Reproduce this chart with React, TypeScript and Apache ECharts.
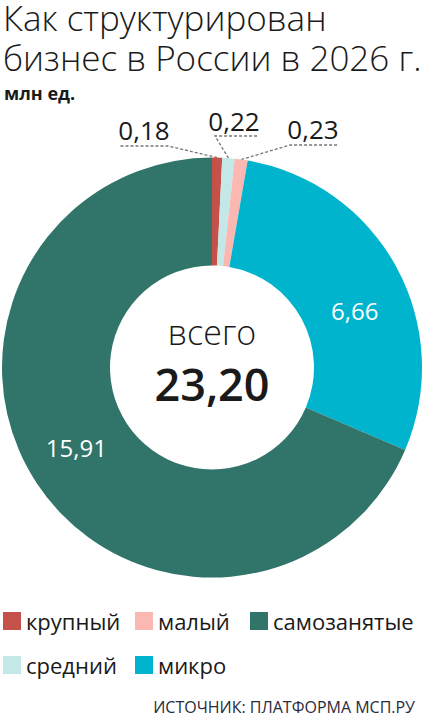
import React, { useEffect, useRef } from "react";
import * as echarts from "echarts";

const categories = ["крупный", "средний", "малый", "микро", "самозанятые"];
const values = [0.18, 0.22, 0.23, 6.66, 15.91];
const colors = ["#c4524b", "#c4e7e7", "#fbb8b3", "#00b4cd", "#31756a"];
const legendColumns = [["крупный", "средний"], ["малый", "микро"], ["самозанятые"]];
const titleLines = ["Как структурирован", "бизнес в России в 2026 г."];
const unitText = "млн ед.";
const totalLabel = "всего";
const sourceText = "ИСТОЧНИК: ПЛАТФОРМА МСП.РУ";

const FONT = "'Open Sans', 'Noto Sans', sans-serif";
const fmt = (v: number) => v.toFixed(2).replace(".", ",");

export default function App() {
  const ref = useRef<HTMLDivElement>(null);
  useEffect(() => {
    if (!ref.current) return;
    const chart = echarts.init(ref.current, null, { renderer: "svg" });
    const total = values.reduce((a, b) => a + b, 0);
    const cx = 212;
    const cy = 367.5;

    // label placement for small outside labels: [labelX, labelY, bendX, bendY, endX]
    const outside: Record<number, number[]> = {
      0: [144, 130, 168, 146, 119],
      1: [234, 121, 215, 136, 258],
      2: [313, 129, 290, 145, 338],
    };

    const titleStyle = { fontFamily: FONT, fontSize: 35, fontWeight: 300, color: "#1a1a1a", lineHeight: 35 };

    const option: any = {
      animation: false,
      backgroundColor: "#ffffff",
      title: [
        { text: titleLines[0], left: 3, top: 0, padding: 0, textStyle: titleStyle },
        { text: titleLines[1], left: 3, top: 40, padding: 0, textStyle: titleStyle },
        {
          text: unitText,
          left: 4,
          top: 83,
          padding: 0,
          textStyle: { fontFamily: FONT, fontSize: 18, fontWeight: "bold", color: "#1a1a1a", lineHeight: 20 },
        },
        {
          text: sourceText,
          right: 8,
          top: 699,
          padding: 0,
          textStyle: { fontFamily: FONT, fontSize: 16, fontWeight: "normal", color: "#2a2a3a" },
        },
      ],
      legend: legendColumns.map((col, i) => ({
        data: col,
        orient: "vertical",
        left: [3, 135, 250][i],
        top: 610,
        padding: 0,
        itemWidth: 18,
        itemHeight: 18,
        itemGap: 22,
        icon: "rect",
        selectedMode: false,
        textStyle: { fontFamily: FONT, fontSize: 22, color: "#1a1a1a", lineHeight: 18 },
      })),
      graphic: [
        {
          type: "text",
          x: cx,
          y: 332,
          style: {
            text: totalLabel,
            fontFamily: FONT,
            fontSize: 34,
            fontWeight: 300,
            fill: "#1a1a1a",
            align: "center",
            verticalAlign: "middle",
            lineHeight: 30,
          },
        },
        {
          type: "text",
          x: cx,
          y: 383,
          style: {
            text: fmt(total),
            fontFamily: FONT,
            fontSize: 45,
            fontWeight: 600,
            fill: "#1a1a1a",
            align: "center",
            verticalAlign: "middle",
            lineHeight: 40,
          },
        },
      ],
      series: [
        {
          type: "pie",
          center: [cx, cy],
          radius: [102, 210],
          startAngle: 90,
          clockwise: true,
          avoidLabelOverlap: false,
          itemStyle: { borderWidth: 0 },
          emphasis: { disabled: true },
          label: {
            show: true,
            position: "inside",
            formatter: (p: any) => fmt(p.value),
            fontFamily: FONT,
            fontSize: 24,
            color: "#ffffff",
          },
          labelLine: { show: false },
          data: categories.map((name, i) => {
            const isSmall = outside[i] !== undefined;
            return {
              name,
              value: values[i],
              itemStyle: { color: colors[i] },
              label: isSmall
                ? { position: "outside", color: "#1a1a1a", fontSize: 26 }
                : { position: "inside" },
              labelLine: isSmall
                ? { show: true, length: 10, length2: 10, lineStyle: { color: "#777", width: 1.3, type: [3, 2] } }
                : { show: false },
            };
          }),
          labelLayout: (params: any) => {
            const o = outside[params.dataIndex];
            if (o) {
              const pts = params.labelLinePoints;
              const start = pts ? pts[0] : [cx, cy - 210];
              return {
                x: o[0],
                y: o[1],
                align: "center",
                verticalAlign: "middle",
                labelLinePoints: [start, [o[2], o[3]], [o[4], o[3]]],
              };
            }
            if (params.dataIndex === 3) return { dx: 3, dy: 19 };
            if (params.dataIndex === 4) return { dx: -3, dy: -8 };
            return {};
          },
        },
      ],
    };
    chart.setOption(option);
    return () => chart.dispose();
  }, []);
  return <div ref={ref} style={{ position: "absolute", left: 0, top: 0, width: 423, height: 721 }} />;
}
